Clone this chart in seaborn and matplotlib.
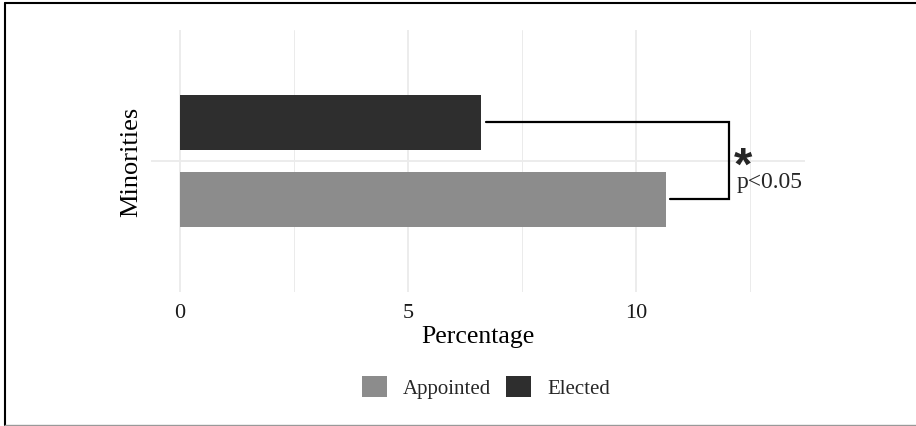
import matplotlib
matplotlib.use("Agg")
import matplotlib.pyplot as plt
from matplotlib.patches import Patch
from matplotlib.lines import Line2D
from matplotlib.ticker import MultipleLocator
import pandas as pd
import seaborn as sns

# Data
groups = ["Minorities", "Minorities"]
appointment = ["Elected", "Appointed"]
percentage = [6.61, 10.65]
legend_order = ["Appointed", "Elected"]
colors = {"Appointed": "#8C8C8C", "Elected": "#2E2E2E"}
x_ticks = [0, 5, 10]
sig_label = "p<0.05"

df = pd.DataFrame({"group": groups, "type": appointment, "pct": percentage})

sns.set_theme(style="white")
plt.rcParams["font.family"] = ["Liberation Serif", "DejaVu Serif"]

W, H = 916, 427
fig = plt.figure(figsize=(W / 100, H / 100), dpi=100)
ax = fig.add_axes([151 / W, 1 - 293 / H, (805 - 151) / W, (293 - 31) / H])

sns.barplot(data=df, y="group", x="pct", hue="type",
            hue_order=["Elected", "Appointed"], palette=colors,
            orient="h", width=0.7, gap=0.2857, linewidth=0,
            legend=False, ax=ax, zorder=3)

ax.set_xlim(-0.636, 13.706)
ax.set_ylim(0.6, -0.6)
ax.xaxis.set_major_locator(MultipleLocator(5))
ax.xaxis.set_minor_locator(MultipleLocator(2.5))
ax.set_xticks(x_ticks)
ax.set_xticklabels([str(t) for t in x_ticks])
ax.grid(which="major", axis="both", color="#EBEBEB", lw=1.3, zorder=0)
ax.grid(which="minor", axis="x", color="#EBEBEB", lw=0.7, zorder=0)
ax.set_axisbelow(True)
for s in ax.spines.values():
    s.set_visible(False)
ax.tick_params(axis="both", length=0, labelsize=16, colors="#1A1A1A")
ax.tick_params(axis="x", pad=8)
ax.tick_params(axis="y", pad=6)
plt.setp(ax.get_yticklabels(), rotation=90, va="center", fontsize=19, color="black")
ax.set_ylabel("")
ax.set_xlabel("Percentage", fontsize=18.5, labelpad=2, color="black")

# Significance bracket joining the two bars
elected_val = percentage[0]
appointed_val = percentage[1]
y_el, y_ap = -0.177, 0.176
bx = 12.05
ax.plot([elected_val + 0.1, bx, bx, appointed_val + 0.1],
        [y_el, y_el, y_ap, y_ap], color="black", lw=1.6,
        solid_joinstyle="miter", zorder=4)
ax.text(bx + 0.3, 0.08, "*", fontsize=34, fontweight="bold",
        family="Liberation Sans", ha="center", va="baseline", zorder=5)
ax.text(bx + 0.15, 0.092, sig_label, fontsize=17, ha="left",
        va="center", zorder=5)

# Legend below the panel
handles = [Patch(facecolor=colors[k], edgecolor="none", label=k) for k in legend_order]
fig.legend(handles=handles, loc="center", bbox_to_anchor=(486 / W, 1 - 388 / H),
           ncol=2, frameon=False, fontsize=15, handlelength=1.2,
           handleheight=1.2, handletextpad=0.77, columnspacing=0.72)

# Outer frame
fig.add_artist(Line2D([5 / W, 5 / W], [1 - 4 / H, 1 - 426 / H], color="black", lw=1.5,
                      transform=fig.transFigure))
fig.add_artist(Line2D([5 / W, 1.0], [1 - 4 / H, 1 - 4 / H], color="black", lw=1.5,
                      transform=fig.transFigure))
fig.add_artist(Line2D([5 / W, 1.0], [1 - 426 / H, 1 - 426 / H], color="#999999", lw=1.0,
                      transform=fig.transFigure))

fig.savefig("out.png", dpi=100, facecolor="white")
